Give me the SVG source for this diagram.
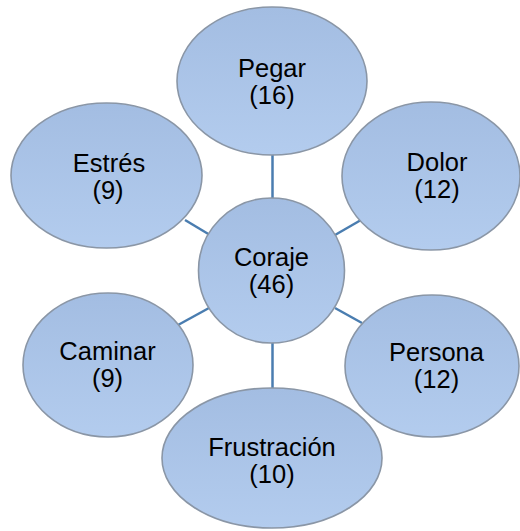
<svg xmlns="http://www.w3.org/2000/svg" width="520" height="531" viewBox="0 0 520 531">
<defs>
<linearGradient id="g" x1="0" y1="0" x2="0" y2="1">
<stop offset="0" stop-color="#a3bde2"/>
<stop offset="1" stop-color="#b3ccee"/>
</linearGradient>
<style>
.n{fill:url(#g);stroke:#8a96a6;stroke-width:1.6}
.t{font-family:"Liberation Sans",Arial,sans-serif;font-size:25.5px;fill:#000;text-anchor:middle}
.c line{stroke:#4a7db0;stroke-width:2.5}
</style>
</defs>
<rect width="520" height="531" fill="#fff"/>
<g class="c" id="connectors">
<line x1="272.5" y1="153" x2="272.5" y2="199"/>
<line x1="272.5" y1="342" x2="272.5" y2="389"/>
<line x1="185" y1="220" x2="210" y2="235"/>
<line x1="335" y1="235" x2="361" y2="220"/>
<line x1="209" y1="308" x2="178" y2="325"/>
<line x1="335" y1="308" x2="362" y2="323"/>
</g>
<g id="pegar"><ellipse class="n" cx="272" cy="81" rx="95" ry="74"/><text class="t" x="272" y="76.5">Pegar</text><text class="t" x="272" y="103.5">(16)</text></g>
<g id="estres"><ellipse class="n" cx="106.5" cy="175.5" rx="95.5" ry="72.5"/><text class="t" x="109" y="171.5">Estrés</text><text class="t" x="108" y="198.5">(9)</text></g>
<g id="dolor"><ellipse class="n" cx="431" cy="176" rx="89" ry="74"/><text class="t" x="437" y="170.5">Dolor</text><text class="t" x="437" y="198">(12)</text></g>
<g id="coraje"><ellipse class="n" cx="271.5" cy="270.5" rx="73" ry="72.5"/><text class="t" x="271.5" y="265.5">Coraje</text><text class="t" x="271.5" y="293">(46)</text></g>
<g id="caminar"><ellipse class="n" cx="108" cy="365" rx="85" ry="72"/><text class="t" x="107.5" y="359.5">Caminar</text><text class="t" x="107.5" y="387">(9)</text></g>
<g id="persona"><ellipse class="n" cx="432" cy="366" rx="87" ry="71"/><text class="t" x="436.5" y="360.5">Persona</text><text class="t" x="436.5" y="387.5">(12)</text></g>
<g id="frustracion"><ellipse class="n" cx="272" cy="458" rx="110" ry="70"/><text class="t" x="272" y="455.5">Frustración</text><text class="t" x="272" y="483">(10)</text></g>
</svg>
